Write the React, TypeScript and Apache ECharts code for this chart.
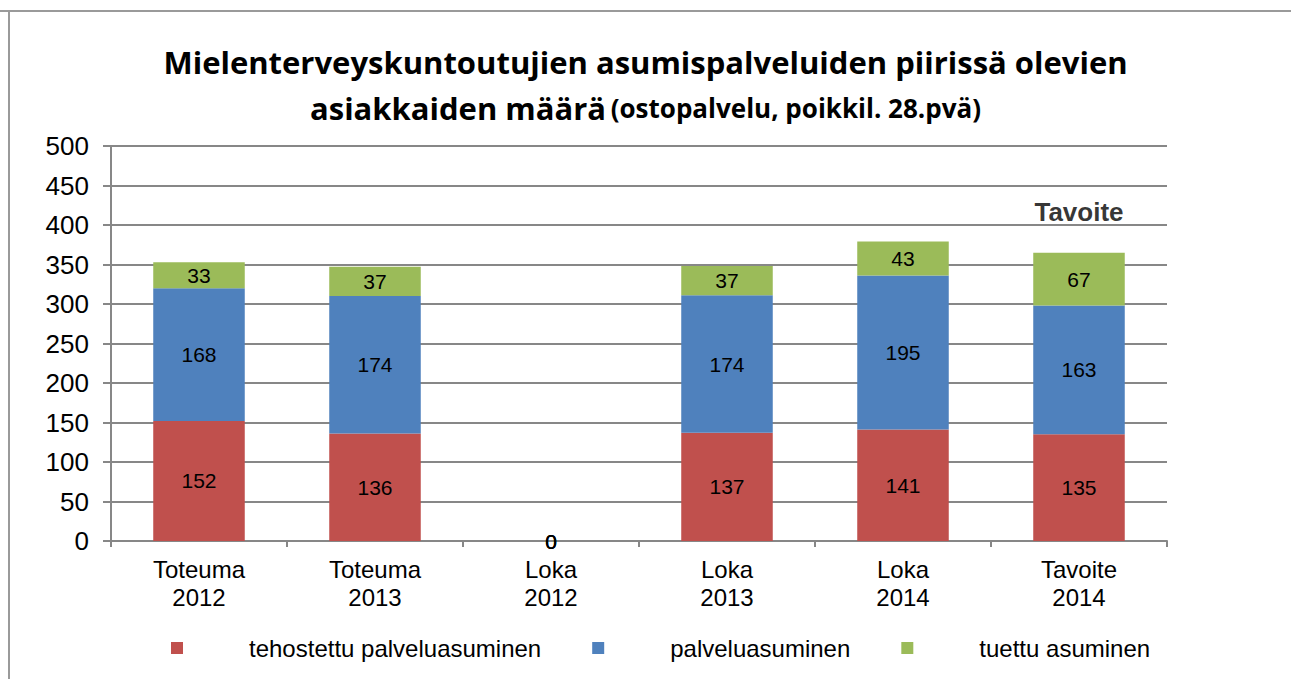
import React, { useEffect, useRef } from "react";
import * as echarts from "echarts";

const categories = ["Toteuma\n2012", "Toteuma\n2013", "Loka\n2012", "Loka\n2013", "Loka\n2014", "Tavoite\n2014"];
const seriesNames = ["tehostettu palveluasuminen", "palveluasuminen", "tuettu asuminen"];
const tehostettu = [152, 136, 0, 137, 141, 135];
const palvelu = [168, 174, 0, 174, 195, 163];
const tuettu = [33, 37, 0, 37, 43, 67];
const targetNote = "Tavoite";
const targetIndex = 5;
const yTicks = { min: 0, max: 500, interval: 50 };

const colors = ["#C0504D", "#4F81BD", "#9BBB59"];
const FONT = "'Liberation Sans', Arial, sans-serif";
const TITLE_FONT = "'Open Sans', sans-serif";
const GRID_COLOR = "#878787";

export default function App() {
  const ref = useRef<HTMLDivElement>(null);
  useEffect(() => {
    if (!ref.current) return;
    const chart = echarts.init(ref.current, null, { renderer: "svg" });
    const stackTotal = tehostettu[targetIndex] + palvelu[targetIndex] + tuettu[targetIndex];
    const targetData = categories.map((_, i) => (i === targetIndex ? stackTotal : "-"));
    const valueSets = [tehostettu, palvelu, tuettu];
    chart.setOption({
      animation: false,
      backgroundColor: "#fff",
      textStyle: { fontFamily: FONT },
      title: {
        text:
          "{a|Mielenterveyskuntoutujien asumispalveluiden piirissä olevien}\n{a|asiakkaiden määrä} {b|(ostopalvelu, poikkil. 28.pvä)}",
        left: "center",
        top: 39,
        padding: 0,
        textStyle: {
          fontFamily: TITLE_FONT,
          rich: {
            a: { fontFamily: TITLE_FONT, fontSize: 31, fontWeight: "bold", color: "#000", lineHeight: 46 },
            b: { fontFamily: TITLE_FONT, fontSize: 26, fontWeight: "bold", color: "#000", lineHeight: 46 },
          },
        },
      },
      graphic: [
        { type: "line", shape: { x1: 0, y1: 11, x2: 1291, y2: 11 }, style: { stroke: "#9a9a9a", lineWidth: 2 } },
        { type: "line", shape: { x1: 9, y1: 11, x2: 9, y2: 679 }, style: { stroke: "#9a9a9a", lineWidth: 2 } },
      ],
      legend: {
        data: seriesNames,
        left: 171,
        top: 636,
        padding: 0,
        icon: "rect",
        itemWidth: 12,
        itemHeight: 12,
        itemGap: 51,
        textStyle: { fontFamily: FONT, fontSize: 24, color: "#000", padding: [0, 0, 0, 61] },
      },
      grid: { left: 111, right: 124, top: 146, bottom: 138, containLabel: false },
      xAxis: {
        type: "category",
        data: categories,
        axisLine: { show: true, lineStyle: { color: GRID_COLOR, width: 2 } },
        axisTick: { show: true, length: 6, alignWithLabel: false, lineStyle: { color: GRID_COLOR, width: 2 } },
        axisLabel: { color: "#000", fontSize: 24, fontFamily: FONT, lineHeight: 28, margin: 14, interval: 0 },
      },
      yAxis: {
        type: "value",
        min: yTicks.min,
        max: yTicks.max,
        interval: yTicks.interval,
        axisLine: { show: true, lineStyle: { color: GRID_COLOR, width: 2 } },
        axisTick: { show: true, length: 8, lineStyle: { color: GRID_COLOR, width: 2 } },
        axisLabel: { color: "#000", fontSize: 26, fontFamily: FONT, margin: 22 },
        splitLine: { show: true, lineStyle: { color: GRID_COLOR, width: 2 } },
      },
      series: [
        ...seriesNames.map((name, i) => ({
          name,
          type: "bar",
          stack: "total",
          barWidth: "52%",
          data: valueSets[i],
          itemStyle: { color: colors[i] },
          label: { show: true, position: "inside", color: "#000", fontSize: 21, fontFamily: FONT },
        })),
        {
          name: "target",
          type: "scatter",
          data: targetData,
          symbolSize: 1,
          itemStyle: { color: "rgba(0,0,0,0)" },
          label: {
            show: true,
            position: "top",
            distance: 27,
            formatter: targetNote,
            color: "#000",
            fontSize: 26,
            fontWeight: "bold",
            fontFamily: FONT,
          },
          tooltip: { show: false },
        },
      ],
    });
    return () => chart.dispose();
  }, []);
  return <div ref={ref} style={{ position: "absolute", left: 0, top: 0, width: 1291, height: 679 }} />;
}
